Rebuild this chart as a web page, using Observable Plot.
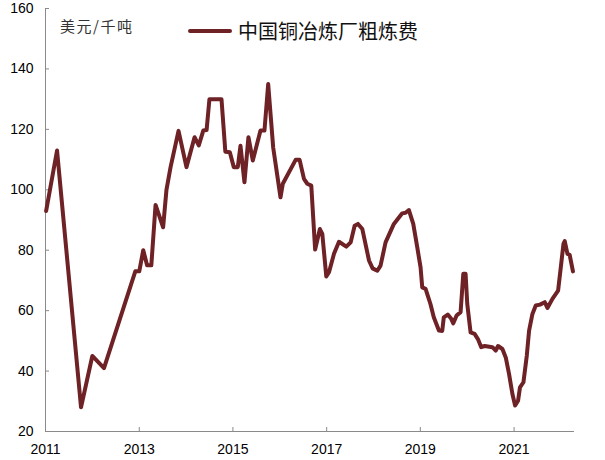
<!DOCTYPE html>
<html>
<head>
<meta charset="utf-8">
<script src="https://cdn.jsdelivr.net/npm/d3@7"></script>
<script src="https://cdn.jsdelivr.net/npm/@observablehq/plot@0.6"></script>
<style>
  html, body { margin: 0; padding: 0; background: #fff; }
  #wrap { position: relative; width: 605px; height: 460px; }
  #unit { position: absolute; left: 60px; top: 15px; font: 15px "Noto Sans CJK SC", sans-serif; letter-spacing: 1.5px; color: #333; white-space: nowrap; }
  #legend { position: absolute; left: 188px; top: 16px; display: flex; align-items: center; font: 20px "Noto Sans CJK SC", sans-serif; color: #111; white-space: nowrap; }
  #legend .sw { width: 44px; height: 4px; border-radius: 2px; margin-right: 6px; }
</style>
</head>
<body>
<div id="wrap">
  <div id="chart"></div>
  <div id="unit"></div>
  <div id="legend"><span class="sw"></span><span class="lt"></span></div>
</div>
<script>
const seriesName = "中国铜冶炼厂粗炼费";
const unitLabel = "美元/千吨";
const lineColor = "#6E2226";

const dates = [
  "2011-01-06","2011-04-01","2011-10-05","2012-01-01","2012-04-01","2012-12-01","2013-01-01","2013-02-01",
  "2013-03-03","2013-04-05","2013-05-08","2013-07-06","2013-08-01","2013-09-02","2013-11-03","2014-01-04",
  "2014-03-08","2014-04-10","2014-05-15","2014-06-10","2014-07-02","2014-10-04","2014-11-03","2014-12-08",
  "2015-01-08","2015-02-08","2015-03-01","2015-04-01","2015-05-02","2015-06-05","2015-08-04","2015-09-04",
  "2015-10-03","2015-11-11","2016-01-07","2016-01-25","2016-05-04","2016-06-04","2016-07-08","2016-08-03",
  "2016-09-03","2016-10-03","2016-11-09","2016-11-28","2016-12-29","2017-01-19","2017-02-27","2017-04-07",
  "2017-06-03","2017-07-07","2017-08-07","2017-09-02","2017-10-06","2017-11-27","2017-12-25","2018-01-31",
  "2018-02-25","2018-04-05","2018-06-09","2018-08-13","2018-09-08","2018-10-04","2018-11-07","2018-12-08",
  "2019-01-03","2019-01-16","2019-02-11","2019-02-28","2019-03-21","2019-04-16","2019-05-26","2019-06-21",
  "2019-07-03","2019-08-03","2019-08-30","2019-09-15","2019-10-11","2019-11-11","2019-12-02","2019-12-20",
  "2020-01-02","2020-01-28","2020-02-28","2020-03-25","2020-04-20","2020-05-17","2020-07-16","2020-08-11",
  "2020-08-29","2020-10-02","2020-10-28","2020-11-23","2020-12-19","2021-01-09","2021-02-01","2021-02-16",
  "2021-03-15","2021-04-10","2021-04-28","2021-05-24","2021-06-19","2021-07-22","2021-08-28","2021-09-18",
  "2021-10-27","2021-12-10","2021-12-31","2022-01-21","2022-01-31","2022-02-21","2022-03-10","2022-04-05"
];
const values = [
  93, 113, 28, 45, 41, 73, 73, 80,
  75, 75, 95, 87.6, 100, 107.5, 119.5, 107.5,
  117.4, 114.7, 119.6, 119.8, 130, 130, 112.6, 112.4,
  107.5, 107.5, 114.6, 102.5, 117.4, 109.7, 119.6, 119.6,
  135, 114, 97.5, 102, 109.9, 109.9, 103.6, 102,
  101.4, 80.2, 87, 85.4, 71.3, 72.7, 78.8, 82.8,
  81.2, 82.6, 88.1, 88.7, 87, 76.6, 74, 73.2,
  74.9, 82.6, 88.7, 92.2, 92.4, 93.3, 88.7, 81,
  74.3, 67.7, 67.2, 65, 62.2, 57.8, 53.4, 53.3,
  57.8, 58.7, 57.3, 55.8, 58.4, 59.5, 72.2, 72.2,
  62.2, 52.8, 52.3, 50.6, 47.9, 48.3, 47.9, 46.8,
  48.3, 47.3, 44.5, 39, 32.4, 28.6, 30.2, 34.6,
  36.3, 45.1, 53.4, 58.9, 61.7, 62, 62.8, 60.9,
  63.9, 66.6, 74.3, 82.1, 83, 78.8, 78.5, 73
];
const xDomain = ["2011-01-01", "2022-04-17"];
const xTickYears = [2011, 2013, 2015, 2017, 2019, 2021];
const yDomain = [20, 160];
const yTicks = [20, 40, 60, 80, 100, 120, 140, 160];

const data = dates.map((d, i) => ({date: new Date(d), value: values[i]}));
const xTicks = xTickYears.map(y => new Date(Date.UTC(y, 0, 1)));
const axisColor = "#8a8a8a";

const chart = Plot.plot({
  width: 605,
  height: 460,
  marginLeft: 45,
  marginRight: 31,
  marginTop: 8,
  marginBottom: 29,
  style: {fontFamily: "'Liberation Sans', Arial, sans-serif", fontSize: "14px", color: "#000", background: "#fff"},
  x: {type: "utc", domain: xDomain.map(d => new Date(d))},
  y: {domain: yDomain},
  marks: [
    Plot.ruleY([yDomain[0]], {stroke: axisColor}),
    Plot.ruleX([new Date(xDomain[0])], {stroke: axisColor}),
    Plot.axisX(xTicks, {tickSize: -4, tickPadding: 17, stroke: axisColor, fill: "#000", tickFormat: d => String(d.getUTCFullYear()), label: null}),
    Plot.axisY(yTicks, {tickSize: -4, tickPadding: 16, stroke: axisColor, fill: "#000", label: null}),
    Plot.line(data, {x: "date", y: "value", stroke: lineColor, strokeWidth: 4, strokeLinejoin: "round", strokeLinecap: "round"})
  ]
});
document.getElementById("chart").appendChild(chart);
document.getElementById("unit").textContent = unitLabel;
document.querySelector("#legend .lt").textContent = seriesName;
document.querySelector("#legend .sw").style.background = lineColor;
</script>
</body>
</html>
